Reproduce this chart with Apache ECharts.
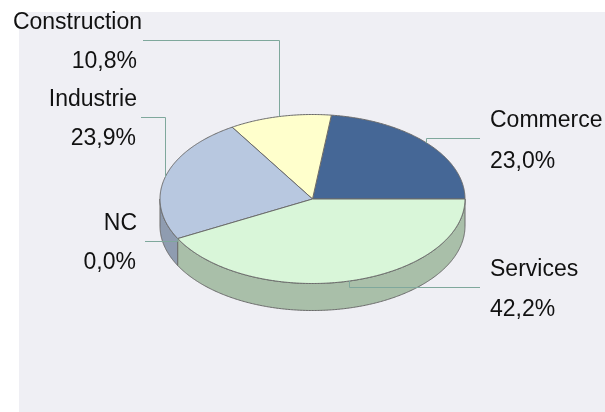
<!DOCTYPE html>
<html>
<head>
<meta charset="utf-8">
<style>html,body{margin:0;padding:0;background:#fff}#c{width:605px;height:412px}</style>
<script src="https://cdn.jsdelivr.net/npm/echarts@6/dist/echarts.min.js"></script>
</head>
<body>
<div id="c"></div>
<script>
const categories = ['Commerce', 'Construction', 'Industrie', 'NC', 'Services'];
const shares = [23.0, 10.8, 23.9, 0.0, 42.2];
const shareLabels = ['23,0%', '10,8%', '23,9%', '0,0%', '42,2%'];
const topColors = ['#456796', '#FFFFCC', '#B8C8E0', '#9EB0C8', '#D9F6D9'];
const sideColors = ['#33496B', '#B8B894', '#8F9CB0', '#7A8898', '#A9BFA9'];

// layout of the drawing (not data)
const CX = 312.5, CY = 199, RX = 152.5, RY = 84.5, DEPTH = 27;
const labelLayout = [
  { x: 490, yName: 121, yVal: 162, align: 'left',  valX: 490, elbowY: 138.5, endX: 480 },
  { x: 142, yName: 23,  yVal: 62,  align: 'right', valX: 137, elbowY: 40.5,  endX: 143 },
  { x: 137, yName: 100, yVal: 139, align: 'right', valX: 136, elbowY: 117.5, endX: 141 },
  { x: 137, yName: 224, yVal: 263, align: 'right', valX: 136, elbowY: 241.5, endX: 145 },
  { x: 490, yName: 270, yVal: 310, align: 'left',  valX: 490, elbowY: 287.5, endX: 480 }
];

const total = shares.reduce((a, b) => a + b, 0);
const starts = [];
shares.reduce((acc, v, i) => { starts[i] = acc; return acc + v / total * 2 * Math.PI; }, 0);

function pt(a, dy) {
  return [CX + RX * Math.cos(a), CY - RY * Math.sin(a) + (dy || 0)];
}
function arc(a0, a1, dy) {
  const n = Math.max(2, Math.ceil(Math.abs(a1 - a0) / 0.01));
  const out = [];
  for (let k = 0; k <= n; k++) out.push(pt(a0 + (a1 - a0) * k / n, dy));
  return out;
}

const edge = { stroke: '#6B6B6B', lineWidth: 1 };
const lineColor = '#7FA89C';
const textFont = { fontFamily: '"Liberation Sans", Arial, sans-serif', fontSize: 23, fill: '#111111' };

function renderItem(params, api) {
  const i = params.dataIndex;
  const sweep = api.value(1) / total * 2 * Math.PI;
  const a0 = starts[i], a1 = a0 + sweep, mid = a0 + sweep / 2;
  const kids = [];

  // side wall: the part of the outer edge on the front half of the ellipse
  const s0 = Math.max(a0, Math.PI), s1 = Math.min(a1, 2 * Math.PI);
  if (s1 > s0) {
    kids.push({
      type: 'polygon', z2: 1,
      shape: { points: arc(s0, s1, 0).concat(arc(s1, s0, DEPTH)) },
      style: Object.assign({ fill: sideColors[i] }, edge)
    });
  }
  // top face
  if (sweep > 0) {
    kids.push({
      type: 'polygon', z2: 2,
      shape: { points: [[CX, CY]].concat(arc(a0, a1, 0)) },
      style: Object.assign({ fill: topColors[i] }, edge)
    });
  }
  // leader: from the middle of the slice's edge, elbow, to its label
  const lay = labelLayout[i];
  const anchor = pt(mid, 0);
  const ax = Math.floor(anchor[0]) + 0.5;
  const pts = [[ax, anchor[1]], [ax, lay.elbowY], [lay.endX, lay.elbowY]];
  kids.push({
    type: 'polyline', z2: 3,
    shape: { points: pts },
    style: { stroke: lineColor, lineWidth: 1, fill: null }
  });
  // labels
  kids.push({
    type: 'text', z2: 4,
    style: Object.assign({ x: lay.x, y: lay.yName, text: categories[i], align: lay.align, verticalAlign: 'middle' }, textFont)
  });
  kids.push({
    type: 'text', z2: 4,
    style: Object.assign({ x: lay.valX, y: lay.yVal, text: shareLabels[i], align: lay.align, verticalAlign: 'middle' }, textFont)
  });
  return { type: 'group', children: kids };
}

const chart = echarts.init(document.getElementById('c'), null, { renderer: 'canvas' });
chart.setOption({
  animation: false,
  backgroundColor: '#FFFFFF',
  graphic: [{
    type: 'rect', z: -1, silent: true,
    shape: { x: 19, y: 12, width: 586, height: 400 },
    style: { fill: '#EFEFF4' }
  }],
  series: [{
    type: 'custom',
    coordinateSystem: 'none',
    renderItem: renderItem,
    data: categories.map((c, i) => ({ name: c, value: [i, shares[i]] }))
  }]
});
</script>
</body>
</html>
